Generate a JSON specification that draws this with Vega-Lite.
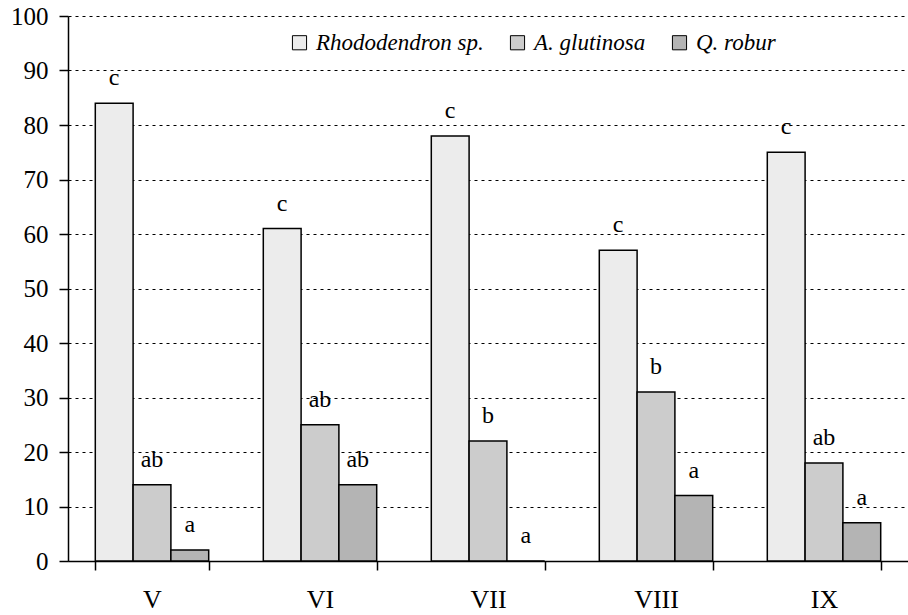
{
  "$schema": "https://vega.github.io/schema/vega-lite/v6.json",
  "width": 840,
  "height": 545,
  "autosize": {"type": "none"},
  "padding": {"left": 68, "top": 16, "right": 0, "bottom": 54},
  "background": "white",
  "config": {
    "view": {"stroke": null},
    "font": "Liberation Serif"
  },
  "data": {
    "values": [
      {"month": "V", "species": "Rhododendron sp.", "value": 84, "label": "c"},
      {"month": "V", "species": "A. glutinosa", "value": 14, "label": "ab"},
      {"month": "V", "species": "Q. robur", "value": 2, "label": "a"},
      {"month": "VI", "species": "Rhododendron sp.", "value": 61, "label": "c"},
      {"month": "VI", "species": "A. glutinosa", "value": 25, "label": "ab"},
      {"month": "VI", "species": "Q. robur", "value": 14, "label": "ab"},
      {"month": "VII", "species": "Rhododendron sp.", "value": 78, "label": "c"},
      {"month": "VII", "species": "A. glutinosa", "value": 22, "label": "b"},
      {"month": "VII", "species": "Q. robur", "value": 0, "label": "a"},
      {"month": "VIII", "species": "Rhododendron sp.", "value": 57, "label": "c"},
      {"month": "VIII", "species": "A. glutinosa", "value": 31, "label": "b"},
      {"month": "VIII", "species": "Q. robur", "value": 12, "label": "a"},
      {"month": "IX", "species": "Rhododendron sp.", "value": 75, "label": "c"},
      {"month": "IX", "species": "A. glutinosa", "value": 18, "label": "ab"},
      {"month": "IX", "species": "Q. robur", "value": 7, "label": "a"}
    ]
  },
  "encoding": {
    "x": {
      "field": "month",
      "type": "nominal",
      "sort": ["V", "VI", "VII", "VIII", "IX"],
      "scale": {"paddingInner": 0.325, "paddingOuter": 0.1625},
      "axis": {
        "title": null,
        "labelAngle": 0,
        "labelFont": "Liberation Serif",
        "labelFontSize": 26,
        "labelColor": "black",
        "labelPadding": 16,
        "tickBand": "extent",
        "tickColor": "black",
        "tickSize": 9,
        "tickWidth": 1.5,
        "domainColor": "black",
        "domainWidth": 1.5,
        "grid": false
      }
    },
    "xOffset": {
      "field": "species",
      "type": "nominal",
      "sort": ["Rhododendron sp.", "A. glutinosa", "Q. robur"],
      "scale": {"paddingInner": 0, "paddingOuter": 0}
    },
    "y": {
      "field": "value",
      "type": "quantitative",
      "scale": {"domain": [0, 100], "nice": false},
      "axis": {
        "title": null,
        "values": [0, 10, 20, 30, 40, 50, 60, 70, 80, 90, 100],
        "labelFont": "Liberation Serif",
        "labelFontSize": 25,
        "labelColor": "black",
        "labelPadding": 11,
        "tickColor": "black",
        "tickSize": 9,
        "tickWidth": 1.5,
        "domainColor": "black",
        "domainWidth": 1.5,
        "grid": true,
        "gridColor": "black",
        "gridDash": [3, 4],
        "gridWidth": 1.2,
        "gridOpacity": 1
      }
    }
  },
  "layer": [
    {
      "mark": {"type": "bar", "stroke": "black", "strokeWidth": 1.5},
      "encoding": {
        "fill": {
          "field": "species",
          "type": "nominal",
          "sort": ["Rhododendron sp.", "A. glutinosa", "Q. robur"],
          "scale": {
            "domain": ["Rhododendron sp.", "A. glutinosa", "Q. robur"],
            "range": ["#ececec", "#cccccc", "#b4b4b4"]
          },
          "legend": {
            "title": null,
            "orient": "none",
            "legendX": 220,
            "legendY": 15,
            "direction": "horizontal",
            "symbolType": "square",
            "symbolSize": 200,
            "symbolStrokeColor": "black",
            "symbolStrokeWidth": 1,
            "labelFont": "Liberation Serif",
            "labelFontStyle": "italic",
            "labelFontSize": 23,
            "labelColor": "black",
            "labelOffset": 5,
            "columnPadding": 22,
            "labelLimit": 300
          }
        }
      }
    },
    {
      "mark": {
        "type": "text",
        "baseline": "alphabetic",
        "dy": -18,
        "fontSize": 24,
        "font": "Liberation Serif",
        "color": "black"
      },
      "encoding": {
        "text": {"field": "label"}
      }
    }
  ]
}
